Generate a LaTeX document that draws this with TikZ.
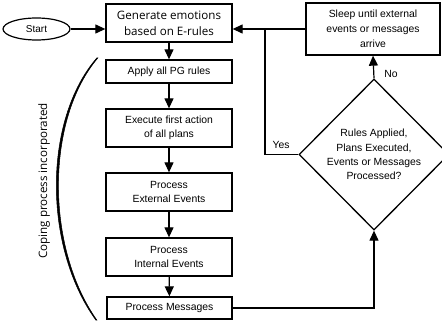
\documentclass[tikz,border=0pt]{standalone}
\usepackage{fontspec}
\setmainfont{Liberation Sans}
\newfontfamily\opensans{Open Sans}
\usetikzlibrary{shapes.geometric,arrows.meta}
\begin{document}
\begin{tikzpicture}[x=1pt,y=-1pt,
  box/.style={draw, line width=1.3pt, align=center, inner sep=0pt, minimum width=126pt, font=\fontsize{10.4}{14.5}\selectfont},
  arr/.style={line width=1.2pt, -{Triangle[length=10pt,width=9pt]}},
  ln/.style={line width=1.2pt},
  lbl/.style={font=\fontsize{10.4}{12}\selectfont, inner sep=0pt}]
\useasboundingbox (0,0) rectangle (442,326);
\clip (0,0) rectangle (442,326);
\fill[white] (0,0) rectangle (442,326);
\node[draw, ellipse, line width=1.2pt, minimum width=67pt, minimum height=22pt, inner sep=0pt, font=\fontsize{10}{12}\selectfont] (start) at (36.5,29) {Start};
\node[box, minimum height=38pt, font=\opensans\fontsize{11.6}{16}\selectfont] (gen) at (169,23) {Generate emotions\\based on E-rules};
\node[box, minimum height=23pt] (apply) at (169,71.5) {Apply all PG rules};
\node[box, minimum height=38pt] (exec) at (169,128) {Execute first action\\of all plans};
\node[box, minimum height=38pt] (pee) at (169,192) {Process\\External Events};
\node[box, minimum height=38pt] (pie) at (169,257) {Process\\Internal Events};
\node[box, minimum height=22pt, minimum width=125pt] (pm) at (169.5,308) {Process Messages};
\node[box, minimum height=52pt, minimum width=134pt, font=\fontsize{10.4}{15}\selectfont] (sleep) at (373,29) {Sleep until external\\events or messages\\arrive};
\node[draw, diamond, line width=1.3pt, minimum width=150pt, minimum height=151pt, inner sep=0pt, align=center, font=\fontsize{10.4}{14.3}\selectfont] (dia) at (374,154.5) {Rules Applied,\\Plans Executed,\\Events or Messages\\Processed?};
\coordinate (j) at (265,29);
% connectors
\draw[arr] (start.east) -- (start.east -| gen.west);
\draw[arr] (gen) -- (apply);
\draw[arr] (apply) -- (exec);
\draw[arr] (exec) -- (pee);
\draw[arr] (pee) -- (pie);
\draw[arr] (pie) -- (pm);
\draw[arr] (sleep.west) -- (sleep.west -| gen.east);
\draw[ln] (dia.west) -| (j);
\draw[arr] (dia.north) -- (sleep.south);
\draw[arr] (pm.east) -| (dia.south);
\node[lbl] (yes) at (281,145) {Yes};
\node[lbl] (no) at (391,74) {No};
% coping bracket
\fill[line width=0.5pt, draw] (96.8,58) .. controls (43,120) and (43,247) .. (95.8,320)
  -- (96.8,320) .. controls (45.5,247) and (45.5,120) .. (97.8,58) -- cycle;
\node[rotate=90, inner sep=0pt, font=\opensans\fontsize{11.6}{13}\selectfont] (coping) at (44,181) {Coping process incorporated};
\end{tikzpicture}
\end{document}
